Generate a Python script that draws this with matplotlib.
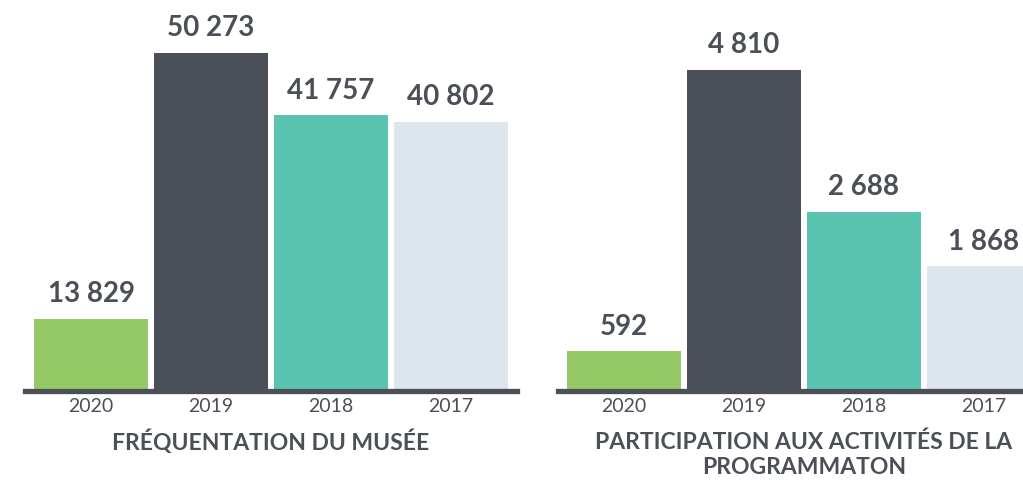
import matplotlib
matplotlib.use("Agg")
import matplotlib.pyplot as plt
import matplotlib.transforms as mtransforms

years = ["2020", "2019", "2018", "2017"]
frequentation = [13829, 50273, 41757, 40802]
participation = [592, 4810, 2688, 1868]
titles = [["FRÉQUENTATION DU MUSÉE"],
          ["PARTICIPATION AUX ACTIVITÉS DE LA", "PROGRAMMATON"]]

colors = ["#94c966", "#4b5058", "#5bc4b1", "#dce6ec"]
text_color = "#4b4f57"

W, H = 1023, 480
fig = plt.figure(figsize=(W / 100, H / 100), dpi=100)
fig.patch.set_facecolor("white")

def fmt(v):
    return f"{v:,}".replace(",", " ")

panels = [
    (frequentation, 25, (3970, 57534), 0),
    (participation, 558, (0, 5857), 1),
]

for values, left_px, ylim, idx in panels:
    ax = fig.add_axes([left_px / W, (H - 391) / H, 492 / W, 391 / H])
    x = list(range(len(years)))
    ax.bar(x, values, width=0.95, color=colors, zorder=1)
    ax.set_xlim(-0.55, 3.55)
    ax.set_ylim(*ylim)
    for s in ["top", "right", "left"]:
        ax.spines[s].set_visible(False)
    ax.spines["bottom"].set_linewidth(3.8)
    ax.spines["bottom"].set_color(text_color)
    ax.spines["bottom"].set_zorder(3)
    ax.set_yticks([])
    ax.set_xticks(x)
    ax.set_xticklabels(years, fontfamily="Lato", fontsize=14, color=text_color)
    ax.tick_params(axis="x", length=0, pad=5)
    for xi, v in zip(x, values):
        ax.annotate(fmt(v), (xi, v), xytext=(0, 12), textcoords="offset points",
                    ha="center", va="baseline", fontfamily="Lato",
                    fontweight="bold", fontsize=20, color=text_color,
                    annotation_clip=False)
    trans = mtransforms.blended_transform_factory(ax.transAxes, fig.transFigure)
    for li, line in enumerate(titles[idx]):
        ycen = 442 + li * 26
        ax.text(0.5, (H - ycen) / H, line, transform=trans,
                ha="center", va="center",
                fontfamily="Lato", fontweight="bold", fontsize=16.5,
                color=text_color)

fig.savefig("out.png", dpi=100, facecolor="white")
